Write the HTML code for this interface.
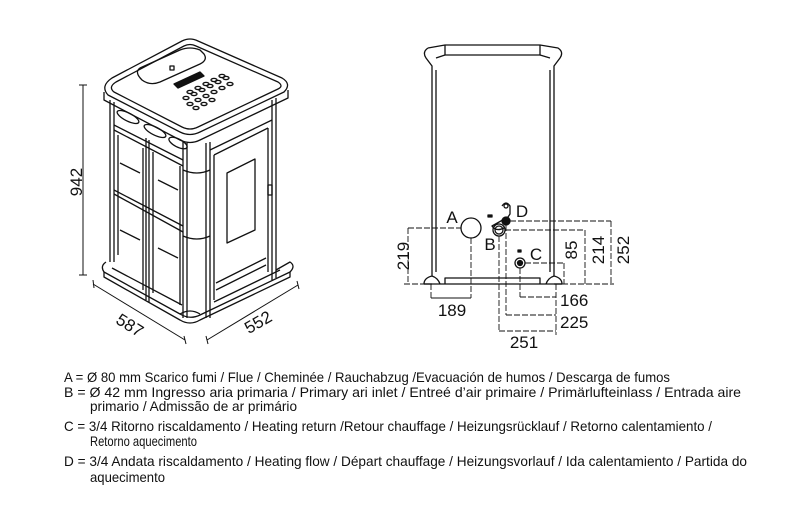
<!DOCTYPE html>
<html><head><meta charset="utf-8"><style>
html,body{margin:0;padding:0;background:#fff;}
svg{display:block;}
text{font-family:"Liberation Sans",sans-serif;fill:#111;}
</style></head><body>
<svg width="790" height="520" viewBox="0 0 790 520" xmlns="http://www.w3.org/2000/svg">
<g fill="none" stroke="#111" stroke-width="1.3" stroke-linejoin="round">
<!-- STOVE -->
<path d="M112 78 L182 41 Q190 37 198 41 L282 78 Q292 84 284 92 L200 132 Q190 137 180 132 L108 95 Q100 86 112 78 Z"/>
<path d="M116 82 L184 46 Q190 43 196 46 L278 82 Q284 86 278 89 L198 127 Q190 131 182 127 L114 92 Q108 87 116 82 Z"/>
<path d="M104 92 L104 100 L180 140 Q190 145 200 140 L288 98 L288 90"/>
<path d="M140 68 L180 50 Q190 46 200 50 L204 54 Q208 60 200 64 L160 82 Q150 86 142 80 Q134 72 140 68 Z"/>
<rect x="170" y="66" width="4" height="4"/>
<path d="M174 84 L200 72 L204 76 L178 88 Z" fill="#111"/>
<g fill="none">
<ellipse cx="190" cy="92" rx="3" ry="1.6"/><ellipse cx="198" cy="88" rx="3" ry="1.6"/><ellipse cx="206" cy="84" rx="3" ry="1.6"/><ellipse cx="214" cy="80" rx="3" ry="1.6"/><ellipse cx="222" cy="76" rx="3" ry="1.6"/>
<ellipse cx="186" cy="98" rx="3" ry="1.6"/><ellipse cx="194" cy="94" rx="3" ry="1.6"/><ellipse cx="202" cy="90" rx="3" ry="1.6"/><ellipse cx="210" cy="86" rx="3" ry="1.6"/><ellipse cx="218" cy="82" rx="3" ry="1.6"/><ellipse cx="226" cy="78" rx="3" ry="1.6"/>
<ellipse cx="190" cy="104" rx="3" ry="1.6"/><ellipse cx="198" cy="100" rx="3" ry="1.6"/><ellipse cx="206" cy="96" rx="3" ry="1.6"/><ellipse cx="214" cy="92" rx="3" ry="1.6"/><ellipse cx="222" cy="88" rx="3" ry="1.6"/><ellipse cx="230" cy="84" rx="3" ry="1.6"/>
<ellipse cx="196" cy="108" rx="3" ry="1.6"/><ellipse cx="204" cy="104" rx="3" ry="1.6"/><ellipse cx="212" cy="100" rx="3" ry="1.6"/>
</g>
<path d="M110 100 L110 262"/><path d="M114 102 L114 262"/>
<path d="M183 142 L183 318"/><path d="M187 143 L187 318"/>
<path d="M210 142 L210 318"/><path d="M206 143 L206 318"/>
<path d="M114 125 L183 160"/><path d="M114 130 L183 166"/>
<path d="M114 190 L183 226"/><path d="M114 194 L183 232"/>
<path d="M146 138 L146 300"/><path d="M149 140 L149 302"/>
<path d="M118 135 L118 255"/><path d="M143 148 L143 290"/>
<path d="M153 152 L153 293"/><path d="M180 166 L180 305"/>
<ellipse cx="128" cy="117" rx="12" ry="4" transform="rotate(27 128 117)"/>
<ellipse cx="155" cy="131" rx="12" ry="4" transform="rotate(27 155 131)"/>
<ellipse cx="178" cy="143" rx="10" ry="4" transform="rotate(27 178 143)"/>
<path d="M120 163 L140 173"/><path d="M158 180 L178 190"/>
<path d="M120 230 L140 240"/><path d="M158 248 L178 258"/>
<path d="M183 170 Q197 176 210 170"/><path d="M183 236 Q197 242 210 236"/>
<path d="M210 150 L272 120"/><path d="M214 155 L268 128"/>
<path d="M214 155 L214 300"/><path d="M268 128 L268 272"/>
<path d="M272 100 L272 280"/><path d="M276 98 L276 278"/>
<path d="M227 173 L255 159 L255 230 L227 243 Z"/>
<rect x="268" y="185" width="4" height="10"/>
<path d="M216 283 L266 258"/><path d="M216 290 L266 265"/>
<path d="M106 262 Q100 266 104 272 L180 314 Q190 320 200 315 L290 272 Q296 266 290 262 L276 270"/>
<path d="M104 272 L104 277 L180 320 Q190 326 200 320 L290 277 L290 272"/>
<path d="M112 268 L182 305"/><path d="M214 302 L280 270"/>
<path d="M180 314 Q190 308 200 314"/>
<path d="M83 85 L83 275" stroke-width="1"/>
<path d="M79 85 L87 85 M79 275 L87 275" stroke-width="1"/>
<path d="M93 284 L185 340" stroke-width="1"/>
<path d="M93 280 L94 288 M184 336 L186 344" stroke-width="1"/>
<path d="M207 340 L298 285" stroke-width="1"/>
<path d="M206 336 L208 344 M297 281 L299 289" stroke-width="1"/>

<!-- RIGHT DRAWING -->
<path d="M428 48 Q422 52 426 58 L432 66 L432 276 Q424 278 424 284 L432 284"/>
<path d="M436 70 L436 272"/>
<path d="M428 48 L445 45 L540 45 L558 48 Q564 52 560 58 L554 66 L554 276 Q562 278 562 284 L554 284"/>
<path d="M550 70 L550 272"/>
<path d="M445 45 L445 55 L540 55 L540 45"/>
<path d="M436 58 L445 55 M550 58 L540 55"/>
<path d="M424 284 L562 284"/>
<path d="M445 284 L445 278 L540 278 L540 284"/>
<path d="M432 276 Q438 278 440 284 M554 276 Q548 278 546 284"/>
<circle cx="471" cy="228" r="10"/>
<circle cx="499" cy="230" r="6"/><circle cx="499" cy="230" r="4"/>
<circle cx="506" cy="221" r="4" fill="#111"/>
<path d="M502 206 Q506 200 510 206 L510 214 L508 217 L492 226 Q496 232 504 228"/>
<circle cx="506" cy="206" r="2"/>
<circle cx="520" cy="263" r="5"/><circle cx="520" cy="263" r="2.5" fill="#111"/>
<rect x="488" y="215" width="4" height="2" fill="#111"/>
<rect x="518" y="250" width="3" height="2" fill="#111"/>
<g stroke-dasharray="6 2" stroke-width="0.9">
<path d="M408 228 L461 228 M408 228 L408 284 M404 284 L426 284"/>
<path d="M471 238 L471 298"/>
<path d="M431 284 L431 298"/>
<path d="M525 263 L564 263 M564 263 L564 284 M562 284 L614 284"/>
<path d="M505 230 L585 230 M585 230 L585 284"/>
<path d="M510 221 L611 221 M611 221 L611 284"/>
<path d="M520 268 L520 297 M520 297 L556 297"/>
<path d="M506 225 L506 315 M506 315 L556 315"/>
<path d="M499 236 L499 331 M499 331 L556 331"/>
<path d="M556 284 L556 335"/>
</g>
<path d="M431 298 L471 298" stroke-width="1"/>
</g>
<g font-size="17">
<text x="76" y="188" transform="rotate(-90 76 182)" text-anchor="middle">942</text>
<text x="130" y="331" transform="rotate(32 130 325)" text-anchor="middle">587</text>
<text x="258" y="328" transform="rotate(-30 258 322)" text-anchor="middle">552</text>
<text x="452" y="223" text-anchor="middle">A</text>
<text x="490" y="250" text-anchor="middle">B</text>
<text x="522" y="217" text-anchor="middle">D</text>
<text x="536" y="260" text-anchor="middle">C</text>
<text x="403" y="262" transform="rotate(-90 403 256)" text-anchor="middle">219</text>
<text x="571" y="256" transform="rotate(-90 571 250)" text-anchor="middle">85</text>
<text x="598" y="256" transform="rotate(-90 598 250)" text-anchor="middle">214</text>
<text x="623" y="256" transform="rotate(-90 623 250)" text-anchor="middle">252</text>
<text x="452" y="316" text-anchor="middle">189</text>
<text x="560" y="306">166</text>
<text x="560" y="328">225</text>
<text x="524" y="348" text-anchor="middle">251</text>
</g>
<g font-size="14">
<text x="64" y="382" textLength="606" lengthAdjust="spacingAndGlyphs">A = Ø 80 mm Scarico fumi / Flue / Cheminée / Rauchabzug /Evacuación de humos / Descarga de fumos</text>
<text x="64" y="397" textLength="677" lengthAdjust="spacingAndGlyphs">B = Ø 42 mm Ingresso aria primaria / Primary ari inlet / Entreé d’air primaire / Primärlufteinlass / Entrada aire</text>
<text x="90" y="411" textLength="207" lengthAdjust="spacingAndGlyphs">primario / Admissão de ar primário</text>
<text x="64" y="431" textLength="648" lengthAdjust="spacingAndGlyphs">C = 3/4  Ritorno riscaldamento / Heating return /Retour chauffage / Heizungsrücklauf / Retorno calentamiento /</text>
<text x="90" y="446" textLength="107" lengthAdjust="spacingAndGlyphs">Retorno aquecimento</text>
<text x="64" y="466" textLength="683" lengthAdjust="spacingAndGlyphs">D = 3/4 Andata riscaldamento / Heating flow / Départ chauffage / Heizungsvorlauf / Ida calentamiento / Partida do</text>
<text x="90" y="482" textLength="75" lengthAdjust="spacingAndGlyphs">aquecimento</text>
</g>
</svg>
</body></html>
